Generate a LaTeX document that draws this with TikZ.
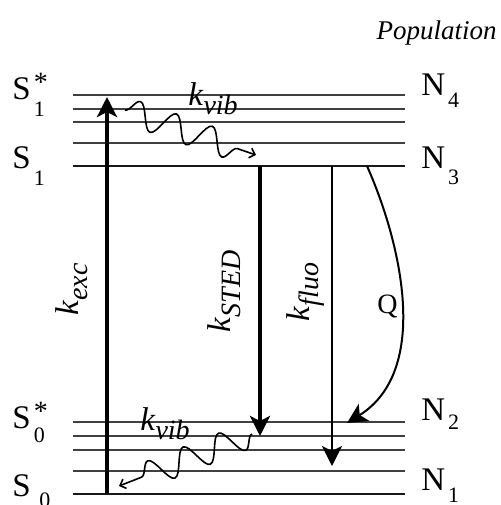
\documentclass[tikz,border=0pt]{standalone}
\usepackage{fontspec}
\setmainfont{Liberation Serif}
\usetikzlibrary{arrows.meta, decorations.pathmorphing}

\newcommand{\subsz}{\fontsize{11}{11}\selectfont}
\newcommand{\ksub}[1]{\textit{k}\raisebox{-0.3em}{\fontsize{14}{14}\selectfont\textit{#1}}}
\newcommand{\lvlname}[3]{#1\kern1.5pt\raisebox{-#3}{\subsz #2}}
\newcommand{\lvlstar}[3]{#1\kern1.5pt\rlap{\raisebox{-#3}{\subsz #2}}\raisebox{4pt}{\fontsize{14}{14}\selectfont *}}

\begin{document}
\begin{tikzpicture}[
        x=0.5pt, y=-0.5pt,
        level/.style={line width=0.7pt, draw=black!75},
        mainlevel/.style={line width=1.4pt, draw=black!90},
        lbl/.style={inner sep=0pt, font=\fontsize{16.5}{19}\selectfont},
        arr/.style={-{Stealth[length=10pt, width=10pt, inset=2.5pt]}},
        wave/.style={decorate, line width=0.8pt,
                     decoration={snake, amplitude=6.5pt, segment length=19pt, post length=3pt}},
    ]
    \useasboundingbox (0,0) rectangle (500,505);

    % vibrational sub-levels
    \foreach \y in {95,109,122,143,422,436,450,471}
        \draw[level] (73,\y) -- (405,\y);
    % electronic levels
    \draw[mainlevel] (73,166) -- (405,166);
    \draw[mainlevel] (73,494) -- (405,494);

    % end points of the transitions
    \coordinate (exc0)  at (107,494);
    \coordinate (exc1)  at (107,97);
    \coordinate (sted0) at (260,166);
    \coordinate (sted1) at (260,436);
    \coordinate (fluo0) at (332,166);
    \coordinate (fluo1) at (332,466);
    \coordinate (q0)    at (367,166);
    \coordinate (q1)    at (347,423);
    \coordinate (vibA0) at (125,110);
    \coordinate (vibA1) at (256,155);
    \coordinate (vibB0) at (252,434);
    \coordinate (vibB1) at (119,486);

    % level labels
    \node[lbl, anchor=base west] (s1x) at (12,99)  {\lvlstar{S}{1}{8.5pt}};
    \node[lbl, anchor=base west] (s1)  at (12,168) {\lvlname{S}{1}{8.5pt}};
    \node[lbl, anchor=base west] (s0x) at (12,428) {\lvlstar{S}{0}{7pt}};
    \node[lbl, anchor=base west] (s0)  at (12,496) {\lvlname{S\,}{0}{5.5pt}};
    \node[lbl, anchor=base west] (n4)  at (421,95)  {\lvlname{N}{4}{6pt}};
    \node[lbl, anchor=base west] (n3)  at (421,168) {\lvlname{N}{3}{8pt}};
    \node[lbl, anchor=base west] (n2)  at (421,420) {\lvlname{N}{2}{4.5pt}};
    \node[lbl, anchor=base west] (n1)  at (421,490) {\lvlname{N}{1}{6pt}};
    \node[lbl, anchor=base east, font=\fontsize{13.5}{15}\selectfont\itshape] (pop) at (497,39) {Population};

    % transitions
    \draw[arr, line width=2pt] (exc0) -- (exc1);
    \draw[arr, line width=2pt] (sted0) -- (sted1);
    \draw[arr, line width=1pt] (fluo0) -- (fluo1);
    \draw[arr, line width=1pt] (q0) .. controls (400,240) and (432,370) .. (q1);
    \draw[wave, -{Straight Barb[length=2.5pt, width=5pt]}] (vibA0) -- (vibA1);
    \draw[wave, -{Straight Barb[length=2.5pt, width=5pt]}] (vibB0) -- (vibB1);

    % rate labels
    \node[lbl, anchor=base west] (kvibA) at (188,105) {\ksub{vib}};
    \node[lbl, anchor=base west] (kvibB) at (140,430) {\ksub{vib}};
    \node[lbl, anchor=base west, rotate=90] (kexc)  at (78,316)  {\ksub{exc}};
    \node[lbl, anchor=base west, rotate=90] (ksted) at (231,333) {\ksub{STED}};
    \node[lbl, anchor=base west, rotate=90] (kfluo) at (309,322) {\ksub{fluo}};
    \node[lbl, anchor=base west, font=\fontsize{14}{15}\selectfont] (q) at (377,313) {Q};
\end{tikzpicture}
\end{document}
